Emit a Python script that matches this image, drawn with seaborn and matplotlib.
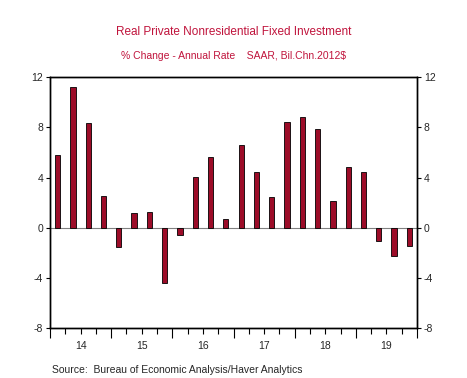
"""Real private nonresidential fixed investment, quarterly % change (SAAR)."""

import matplotlib

matplotlib.use("Agg")
import matplotlib.pyplot as plt
import numpy as np
import pandas as pd
import seaborn as sns

YEARS = ["14", "15", "16", "17", "18", "19"]
QUARTERS = [f"{y}Q{q}" for y in YEARS for q in range(1, 5)]
PCT_CHANGE = [5.76, 11.19, 8.33, 2.52,
              -1.53, 1.18, 1.23, -4.42,
              -0.56, 4.07, 5.65, 0.72,
              6.59, 4.42, 2.46, 8.43,
              8.84, 7.87, 2.09, 4.85,
              4.42, -1.02, -2.28, -1.45]
Y_TICKS = [12, 8, 4, 0, -4, -8]

BAR = "#9c0c28"
TITLE = "#c0143c"

sns.set_theme(style="white")
plt.rcParams["font.family"] = ["Liberation Sans", "DejaVu Sans"]

df = pd.DataFrame({"quarter": QUARTERS, "pct": PCT_CHANGE})

fig = plt.figure(figsize=(4.67, 3.78), dpi=100)
ax = fig.add_axes([0.107, 0.132, 0.786, 0.664])

sns.barplot(data=df, x="quarter", y="pct", order=QUARTERS, color=BAR, width=0.34,
            saturation=1, edgecolor="black", linewidth=0.6, ax=ax)
ax.axhline(0, color="#808080", lw=0.8, zorder=0)

ax.set_xlim(-0.5, len(QUARTERS) - 0.5)
ax.set_ylim(-8, 12)
ax.set_xlabel("")
ax.set_ylabel("")

n = len(QUARTERS)
ax.set_xticks(np.arange(-0.5, n, 4))
ax.set_xticklabels([])
ax.set_xticks(np.arange(-0.5, n, 1), minor=True)
ax.tick_params(axis="x", which="major", direction="out", length=7, width=0.8, color="black", bottom=True)
ax.tick_params(axis="x", which="minor", direction="out", length=4, width=0.8, color="black", bottom=True)
for i, y in enumerate(YEARS):
    ax.text(i * 4 + 1.5, -0.052, y, transform=ax.get_xaxis_transform(), ha="center", va="top", fontsize=7.5)

ax.set_yticks(Y_TICKS)
ax.set_yticklabels([str(t) for t in Y_TICKS], fontsize=7.5)
ax.tick_params(axis="y", direction="out", length=3, width=0.8, color="black", left=True, pad=2)

ax2 = ax.twinx()
ax2.set_ylim(ax.get_ylim())
ax2.set_yticks(Y_TICKS)
ax2.set_yticklabels([str(t) for t in Y_TICKS], fontsize=7.5)
ax2.tick_params(axis="y", direction="out", length=3, width=0.8, color="black", right=True, pad=2)

for a in (ax, ax2):
    for s in a.spines.values():
        s.set_color("black")
        s.set_linewidth(1.0)

fig.text(0.5, 0.915, "Real Private Nonresidential Fixed Investment", ha="center", va="center",
         fontsize=8.5, color=TITLE)
fig.text(0.5, 0.851, "% Change - Annual Rate    SAAR, Bil.Chn.2012$", ha="center", va="center",
         fontsize=7.5, color=TITLE)
fig.text(0.111, 0.021, "Source:  Bureau of Economic Analysis/Haver Analytics", ha="left", va="center",
         fontsize=7.5)

fig.savefig("out.png", dpi=100)
